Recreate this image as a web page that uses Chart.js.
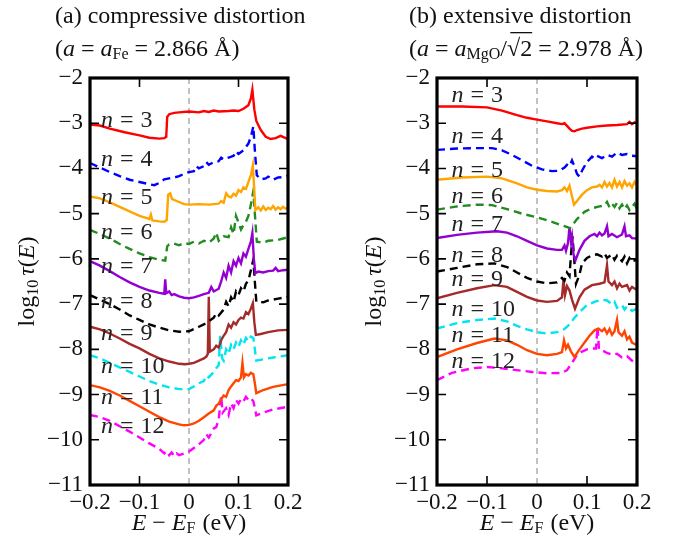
<!DOCTYPE html>
<html>
<head>
<meta charset="utf-8">
<script src="https://cdn.jsdelivr.net/npm/chart.js@4.4.1/dist/chart.umd.min.js"></script>
<style>
  body { margin: 0; background: #fff; }
  .panel { position: absolute; top: 0; width: 344px; height: 542px; }
  #leftBox { left: 0; }
  #rightBox { left: 344px; }
</style>
</head>
<body>
<div class="panel" id="leftBox"><canvas id="compChart"></canvas></div>
<div class="panel" id="rightBox"><canvas id="extChart"></canvas></div>
<script>
// log10 tau(E) vs E - E_F, [energy (eV), value] pairs, one list per n
const compN3 = [[-0.2,-3.03],[-0.18,-3.05],[-0.16,-3.12],[-0.13,-3.2],[-0.1,-3.27],[-0.08,-3.32],[-0.06,-3.34],[-0.05,-3.33],[-0.046,-3.3],[-0.044,-2.86],[-0.04,-2.8],[-0.03,-2.77],[-0.02,-2.76],[0,-2.74],[0.02,-2.76],[0.03,-2.73],[0.04,-2.75],[0.05,-2.72],[0.06,-2.74],[0.08,-2.73],[0.09,-2.72],[0.1,-2.73],[0.11,-2.68],[0.12,-2.6],[0.125,-2.45],[0.128,-2.26],[0.132,-2.7],[0.136,-2.95],[0.145,-3.15],[0.155,-3.3],[0.165,-3.35],[0.175,-3.33],[0.185,-3.28],[0.2,-3.35]];
const compN4 = [[-0.2,-3.88],[-0.18,-3.98],[-0.16,-4.08],[-0.14,-4.17],[-0.12,-4.25],[-0.1,-4.3],[-0.08,-4.35],[-0.07,-4.37],[-0.06,-4.32],[-0.05,-4.24],[-0.04,-4.22],[-0.03,-4.2],[-0.02,-4.17],[-0.01,-4.12],[0,-4.08],[0.01,-4.06],[0.015,-3.95],[0.02,-4.0],[0.03,-3.95],[0.035,-3.86],[0.04,-3.92],[0.05,-3.86],[0.06,-3.84],[0.065,-3.76],[0.07,-3.8],[0.08,-3.76],[0.09,-3.72],[0.095,-3.62],[0.1,-3.68],[0.11,-3.6],[0.12,-3.45],[0.125,-3.3],[0.13,-3.07],[0.133,-3.6],[0.137,-4.15],[0.145,-4.24],[0.155,-4.22],[0.16,-4.18],[0.17,-4.25],[0.18,-4.2],[0.19,-4.19],[0.2,-4.16]];
const compN5 = [[-0.2,-4.62],[-0.18,-4.66],[-0.16,-4.75],[-0.14,-4.85],[-0.12,-4.95],[-0.1,-5.05],[-0.085,-5.1],[-0.08,-5.12],[-0.077,-5.02],[-0.074,-5.15],[-0.06,-5.17],[-0.05,-5.18],[-0.045,-5.14],[-0.042,-4.58],[-0.038,-4.55],[-0.034,-4.68],[-0.025,-4.72],[-0.01,-4.79],[0,-4.8],[0.02,-4.79],[0.04,-4.8],[0.05,-4.79],[0.06,-4.78],[0.065,-4.72],[0.07,-4.76],[0.075,-4.55],[0.08,-4.62],[0.085,-4.64],[0.09,-4.56],[0.095,-4.6],[0.1,-4.48],[0.105,-4.52],[0.11,-4.42],[0.115,-4.45],[0.12,-4.3],[0.125,-4.15],[0.129,-3.93],[0.132,-4.5],[0.134,-4.92],[0.14,-4.86],[0.145,-4.93],[0.15,-4.84],[0.155,-4.92],[0.16,-4.87],[0.165,-4.9],[0.17,-4.83],[0.175,-4.91],[0.18,-4.86],[0.185,-4.9],[0.19,-4.85],[0.195,-4.89],[0.2,-4.86]];
const compN6 = [[-0.2,-5.36],[-0.18,-5.45],[-0.16,-5.55],[-0.14,-5.67],[-0.12,-5.78],[-0.1,-5.88],[-0.08,-5.96],[-0.06,-6.02],[-0.048,-6.04],[-0.044,-5.72],[-0.04,-5.68],[-0.03,-5.66],[-0.02,-5.7],[-0.01,-5.65],[0,-5.67],[0.01,-5.62],[0.02,-5.66],[0.03,-5.6],[0.04,-5.64],[0.05,-5.55],[0.055,-5.42],[0.06,-5.6],[0.07,-5.5],[0.08,-5.52],[0.085,-5.3],[0.09,-5.45],[0.095,-5.05],[0.1,-5.2],[0.105,-5.35],[0.11,-5.25],[0.115,-5.18],[0.12,-5.05],[0.125,-4.8],[0.13,-4.5],[0.133,-5.0],[0.137,-5.62],[0.15,-5.64],[0.16,-5.6],[0.18,-5.58],[0.2,-5.52]];
const compN7 = [[-0.2,-6.05],[-0.18,-6.15],[-0.16,-6.27],[-0.14,-6.4],[-0.12,-6.52],[-0.1,-6.62],[-0.08,-6.7],[-0.06,-6.75],[-0.05,-6.77],[-0.048,-6.45],[-0.046,-6.76],[-0.04,-6.72],[-0.035,-6.8],[-0.03,-6.78],[-0.02,-6.83],[-0.01,-6.86],[0,-6.87],[0.01,-6.85],[0.02,-6.82],[0.03,-6.78],[0.04,-6.75],[0.045,-6.62],[0.05,-6.72],[0.06,-6.66],[0.065,-6.5],[0.07,-6.3],[0.075,-6.42],[0.08,-6.15],[0.085,-6.3],[0.09,-6.05],[0.095,-6.15],[0.1,-5.98],[0.105,-6.1],[0.11,-5.88],[0.115,-5.95],[0.12,-5.78],[0.125,-5.62],[0.128,-5.43],[0.131,-6.0],[0.134,-6.32],[0.14,-6.28],[0.15,-6.3],[0.16,-6.27],[0.17,-6.26],[0.175,-6.2],[0.18,-6.27],[0.19,-6.25],[0.2,-6.24]];
const compN8 = [[-0.2,-6.8],[-0.18,-6.9],[-0.16,-7.0],[-0.14,-7.12],[-0.12,-7.25],[-0.1,-7.35],[-0.08,-7.45],[-0.06,-7.52],[-0.04,-7.58],[-0.02,-7.61],[0,-7.6],[0.02,-7.5],[0.03,-7.45],[0.04,-7.38],[0.05,-7.3],[0.055,-7.2],[0.06,-7.25],[0.07,-7.12],[0.075,-6.95],[0.08,-7.05],[0.085,-6.85],[0.09,-6.95],[0.095,-6.72],[0.1,-6.8],[0.105,-6.65],[0.11,-6.72],[0.115,-6.55],[0.12,-6.48],[0.125,-6.25],[0.13,-6.02],[0.133,-6.5],[0.136,-6.95],[0.15,-6.96],[0.16,-6.92],[0.18,-6.88],[0.2,-6.84]];
const compN9 = [[-0.2,-7.5],[-0.18,-7.56],[-0.16,-7.65],[-0.14,-7.76],[-0.12,-7.88],[-0.1,-7.98],[-0.08,-8.1],[-0.06,-8.2],[-0.04,-8.27],[-0.02,-8.32],[-0.008,-8.33],[0,-8.32],[0.01,-8.3],[0.02,-8.25],[0.03,-8.2],[0.035,-8.16],[0.038,-8.1],[0.04,-6.84],[0.042,-8.05],[0.05,-8.0],[0.055,-7.92],[0.06,-7.96],[0.065,-7.8],[0.07,-7.7],[0.075,-7.62],[0.08,-7.45],[0.085,-7.52],[0.09,-7.4],[0.095,-7.45],[0.1,-7.35],[0.105,-7.3],[0.11,-7.32],[0.115,-7.18],[0.12,-7.22],[0.125,-7.1],[0.129,-6.98],[0.132,-7.4],[0.135,-7.68],[0.145,-7.66],[0.16,-7.62],[0.18,-7.58],[0.2,-7.57]];
const compN10 = [[-0.2,-8.13],[-0.18,-8.2],[-0.16,-8.3],[-0.14,-8.4],[-0.12,-8.5],[-0.1,-8.6],[-0.08,-8.7],[-0.06,-8.78],[-0.04,-8.84],[-0.02,-8.88],[0,-8.88],[0.01,-8.82],[0.02,-8.75],[0.03,-8.7],[0.035,-8.58],[0.04,-8.62],[0.05,-8.5],[0.055,-8.42],[0.06,-8.35],[0.063,-7.7],[0.067,-8.2],[0.07,-8.25],[0.075,-8.0],[0.08,-8.1],[0.085,-7.9],[0.09,-8.0],[0.095,-7.85],[0.1,-7.95],[0.105,-7.8],[0.11,-7.9],[0.115,-7.75],[0.12,-7.82],[0.125,-7.72],[0.13,-7.75],[0.133,-8.0],[0.136,-8.25],[0.15,-8.22],[0.17,-8.18],[0.2,-8.13]];
const compN11 = [[-0.2,-8.79],[-0.18,-8.84],[-0.16,-8.92],[-0.14,-9.02],[-0.12,-9.14],[-0.1,-9.26],[-0.08,-9.38],[-0.06,-9.5],[-0.04,-9.6],[-0.02,-9.66],[-0.01,-9.68],[0,-9.67],[0.01,-9.64],[0.02,-9.58],[0.03,-9.5],[0.04,-9.42],[0.05,-9.35],[0.055,-9.25],[0.06,-9.2],[0.065,-9.1],[0.07,-9.02],[0.075,-9.05],[0.08,-8.9],[0.085,-8.82],[0.09,-8.75],[0.095,-8.68],[0.1,-8.7],[0.105,-8.62],[0.108,-8.3],[0.111,-8.62],[0.115,-8.55],[0.12,-8.58],[0.125,-8.52],[0.13,-8.55],[0.133,-8.75],[0.136,-8.97],[0.15,-8.9],[0.17,-8.83],[0.2,-8.77]];
const compN12 = [[-0.2,-9.45],[-0.18,-9.5],[-0.16,-9.58],[-0.14,-9.7],[-0.12,-9.82],[-0.1,-9.95],[-0.08,-10.08],[-0.06,-10.2],[-0.05,-10.3],[-0.045,-10.25],[-0.04,-10.34],[-0.035,-10.28],[-0.03,-10.36],[-0.025,-10.3],[-0.02,-10.34],[-0.01,-10.3],[0,-10.26],[0.01,-10.18],[0.02,-10.1],[0.03,-10.0],[0.035,-9.88],[0.04,-9.95],[0.05,-9.75],[0.055,-9.72],[0.06,-9.55],[0.065,-9.03],[0.068,-9.4],[0.075,-9.3],[0.08,-9.45],[0.085,-9.2],[0.09,-9.3],[0.095,-9.12],[0.1,-9.2],[0.105,-9.1],[0.11,-9.15],[0.115,-9.05],[0.12,-9.12],[0.125,-9.08],[0.13,-9.15],[0.133,-9.3],[0.136,-9.46],[0.15,-9.4],[0.17,-9.33],[0.2,-9.27]];

const extN3 = [[-0.2,-2.63],[-0.15,-2.63],[-0.1,-2.65],[-0.07,-2.72],[-0.04,-2.82],[-0.02,-2.88],[0,-2.92],[0.02,-2.96],[0.04,-3.0],[0.05,-3.02],[0.055,-3.0],[0.06,-3.06],[0.065,-3.12],[0.07,-3.17],[0.075,-3.18],[0.08,-3.15],[0.09,-3.12],[0.1,-3.1],[0.12,-3.07],[0.14,-3.05],[0.16,-3.04],[0.18,-3.02],[0.185,-2.97],[0.19,-3.02],[0.195,-2.98],[0.2,-3.0]];
const extN4 = [[-0.2,-3.59],[-0.16,-3.56],[-0.12,-3.55],[-0.09,-3.55],[-0.07,-3.6],[-0.05,-3.7],[-0.03,-3.82],[-0.01,-3.94],[0.01,-4.02],[0.03,-4.06],[0.045,-4.05],[0.055,-3.98],[0.06,-3.92],[0.065,-3.95],[0.07,-3.82],[0.075,-3.96],[0.08,-4.12],[0.085,-4.18],[0.09,-4.05],[0.1,-3.85],[0.105,-3.8],[0.11,-3.74],[0.115,-3.78],[0.12,-3.72],[0.13,-3.77],[0.14,-3.7],[0.15,-3.74],[0.16,-3.65],[0.17,-3.7],[0.18,-3.68],[0.19,-3.72],[0.2,-3.73]];
const extN5 = [[-0.2,-4.25],[-0.15,-4.2],[-0.1,-4.18],[-0.07,-4.22],[-0.04,-4.33],[-0.02,-4.42],[0,-4.47],[0.02,-4.5],[0.04,-4.51],[0.05,-4.48],[0.055,-4.42],[0.06,-4.5],[0.065,-4.38],[0.07,-4.62],[0.074,-4.8],[0.08,-4.72],[0.09,-4.58],[0.1,-4.48],[0.11,-4.42],[0.12,-4.4],[0.125,-4.36],[0.13,-4.42],[0.135,-4.3],[0.14,-4.4],[0.145,-4.32],[0.15,-4.42],[0.155,-4.25],[0.16,-4.4],[0.165,-4.3],[0.17,-4.42],[0.175,-4.28],[0.18,-4.38],[0.185,-4.33],[0.19,-4.42],[0.195,-4.3],[0.2,-4.38]];
const extN6 = [[-0.2,-4.91],[-0.16,-4.84],[-0.12,-4.8],[-0.09,-4.81],[-0.06,-4.9],[-0.03,-5.0],[0,-5.08],[0.03,-5.18],[0.05,-5.26],[0.066,-5.32],[0.08,-5.12],[0.095,-4.96],[0.11,-4.88],[0.125,-4.84],[0.135,-4.82],[0.14,-4.74],[0.145,-4.86],[0.15,-4.78],[0.155,-4.85],[0.16,-4.76],[0.165,-4.88],[0.17,-4.8],[0.175,-4.9],[0.18,-4.82],[0.185,-4.92],[0.19,-4.85],[0.195,-4.78],[0.2,-4.9]];
const extN7 = [[-0.2,-5.54],[-0.16,-5.47],[-0.12,-5.42],[-0.08,-5.39],[-0.06,-5.42],[-0.04,-5.5],[-0.02,-5.6],[0,-5.7],[0.02,-5.77],[0.04,-5.8],[0.05,-5.8],[0.055,-5.7],[0.058,-5.82],[0.062,-5.65],[0.065,-5.3],[0.068,-5.62],[0.07,-5.5],[0.073,-5.9],[0.077,-6.03],[0.085,-5.8],[0.095,-5.6],[0.105,-5.5],[0.115,-5.45],[0.12,-5.5],[0.125,-5.42],[0.13,-5.48],[0.135,-5.44],[0.14,-5.28],[0.143,-5.5],[0.15,-5.45],[0.16,-5.52],[0.17,-5.46],[0.175,-5.28],[0.178,-5.5],[0.185,-5.48],[0.19,-5.54],[0.2,-5.55]];
const extN8 = [[-0.2,-6.28],[-0.16,-6.2],[-0.12,-6.12],[-0.085,-6.1],[-0.06,-6.18],[-0.04,-6.3],[-0.02,-6.42],[0,-6.5],[0.02,-6.54],[0.04,-6.52],[0.05,-6.42],[0.055,-6.48],[0.06,-6.3],[0.065,-6.38],[0.068,-5.9],[0.071,-5.5],[0.075,-6.1],[0.078,-6.55],[0.085,-6.35],[0.09,-6.1],[0.1,-5.98],[0.11,-5.92],[0.12,-5.9],[0.13,-5.95],[0.135,-5.88],[0.14,-5.98],[0.15,-5.9],[0.155,-6.02],[0.16,-5.93],[0.17,-6.05],[0.175,-5.95],[0.18,-6.1],[0.185,-5.98],[0.19,-6.05],[0.2,-6.02]];
const extN9 = [[-0.2,-6.87],[-0.16,-6.75],[-0.12,-6.65],[-0.085,-6.58],[-0.06,-6.62],[-0.04,-6.73],[-0.02,-6.84],[0,-6.92],[0.02,-6.95],[0.04,-6.93],[0.05,-6.85],[0.053,-6.45],[0.056,-6.8],[0.06,-6.6],[0.065,-6.7],[0.07,-6.9],[0.076,-7.1],[0.085,-6.85],[0.095,-6.68],[0.11,-6.58],[0.125,-6.55],[0.135,-6.52],[0.14,-6.14],[0.143,-6.5],[0.15,-6.58],[0.155,-6.5],[0.16,-6.65],[0.165,-6.55],[0.17,-6.62],[0.18,-6.58],[0.185,-6.7],[0.19,-6.62],[0.2,-6.69]];
const extN10 = [[-0.2,-7.54],[-0.16,-7.42],[-0.12,-7.35],[-0.085,-7.32],[-0.06,-7.38],[-0.04,-7.48],[-0.02,-7.56],[0,-7.62],[0.02,-7.65],[0.04,-7.62],[0.055,-7.55],[0.065,-7.45],[0.075,-7.3],[0.085,-7.18],[0.1,-7.02],[0.115,-6.95],[0.13,-6.9],[0.14,-6.92],[0.15,-7.0],[0.155,-6.95],[0.16,-7.08],[0.17,-7.02],[0.175,-7.12],[0.18,-7.05],[0.19,-7.15],[0.2,-7.1]];
const extN11 = [[-0.2,-8.17],[-0.16,-8.0],[-0.12,-7.86],[-0.085,-7.76],[-0.06,-7.8],[-0.04,-7.9],[-0.02,-8.02],[0,-8.1],[0.02,-8.13],[0.04,-8.1],[0.05,-8.06],[0.054,-7.8],[0.058,-7.98],[0.062,-7.9],[0.068,-8.05],[0.075,-8.17],[0.085,-8.0],[0.095,-7.85],[0.105,-7.7],[0.115,-7.58],[0.123,-7.54],[0.13,-7.6],[0.135,-7.54],[0.14,-7.65],[0.145,-7.55],[0.15,-7.68],[0.155,-7.6],[0.16,-7.35],[0.163,-7.62],[0.17,-7.7],[0.175,-7.6],[0.18,-7.78],[0.185,-7.72],[0.19,-7.85],[0.2,-7.91]];
const extN12 = [[-0.2,-8.68],[-0.17,-8.52],[-0.13,-8.42],[-0.1,-8.39],[-0.07,-8.42],[-0.04,-8.46],[-0.01,-8.5],[0.02,-8.53],[0.05,-8.52],[0.06,-8.46],[0.07,-8.3],[0.08,-8.12],[0.09,-8.05],[0.1,-8.0],[0.11,-7.98],[0.118,-7.98],[0.121,-7.5],[0.124,-8.0],[0.13,-8.02],[0.14,-8.08],[0.15,-8.12],[0.16,-8.1],[0.17,-8.18],[0.18,-8.15],[0.19,-8.25],[0.2,-8.31]];

// curve labels: n and the log10 tau level where each "n = ..." sits
const nValues = [3, 4, 5, 6, 7, 8, 9, 10, 11, 12];
const compLabelY = [-2.94, -3.81, -4.65, -5.41, -6.18, -6.95, -7.65, -8.39, -9.08, -9.71];
const extLabelY = [-2.4, -3.29, -4.05, -4.62, -5.25, -5.92, -6.47, -7.13, -7.69, -8.28];

const xTicks = [-0.2, -0.1, 0, 0.1, 0.2];
const yTicks = [-11, -10, -9, -8, -7, -6, -5, -4, -3, -2];

const colors = ['#ff0000', '#0000ff', '#ffa500', '#228b22', '#9400d3', '#000000', '#a52a2a', '#00e5ee', '#ff4500', '#ff00ff'];
const SERIF = "'Liberation Serif', 'DejaVu Serif', serif";

function minusFmt(v, digits) {
    const r = Math.round(v * 10) / 10;
    if (Math.abs(r) < 1e-9) return '0';
    const s = digits ? Math.abs(r).toFixed(digits) : String(Math.abs(r));
    return (r < 0 ? '\u2212' : '') + s;
}

// draw a run of text pieces (italic / subscript / overline) from x, returns width
function drawRich(ctx, parts, x, y, measureOnly) {
    let cx = x;
    parts.forEach(p => {
        ctx.font = (p.i ? 'italic ' : '') + (p.size || 24) + 'px ' + SERIF;
        const w = ctx.measureText(p.t).width;
        if (!measureOnly) {
            ctx.fillText(p.t, cx, y + (p.dy || 0));
            if (p.over) {
                ctx.fillRect(cx + p.over, y - 18, w - p.over, 1.3);
            }
        }
        cx += w + (p.gap || 0);
    });
    return cx - x;
}

function drawRichCentered(ctx, parts, cx, y) {
    const w = drawRich(ctx, parts, 0, 0, true);
    drawRich(ctx, parts, cx - w / 2, y);
}

function buildDatasets(series) {
    return series.map((pts, i) => ({
        data: pts.map(p => ({ x: p[0], y: p[1] })),
        borderColor: colors[i],
        borderWidth: 2.4,
        borderDash: i % 2 === 1 ? [8, 5] : [],
        pointRadius: 0,
        tension: 0,
        fill: false
    }));
}

// frame, inward ticks, the E = E_F guide and all the text decorations
const decorPlugin = {
    id: 'decor',
    beforeDatasetsDraw(chart) {
        const { ctx, chartArea: a, scales: { x } } = chart;
        const x0 = x.getPixelForValue(0);
        ctx.save();
        ctx.strokeStyle = '#9a9a9a';
        ctx.lineWidth = 1.2;
        ctx.setLineDash([6, 4]);
        ctx.beginPath();
        ctx.moveTo(x0, a.top);
        ctx.lineTo(x0, a.bottom);
        ctx.stroke();
        ctx.restore();
    },
    afterDatasetsDraw(chart, args, opts) {
        const { ctx, chartArea: a, scales: { x, y } } = chart;
        ctx.save();
        ctx.strokeStyle = '#000';
        ctx.lineWidth = 1.6;
        ctx.beginPath();
        yTicks.forEach(v => {
            const py = y.getPixelForValue(v);
            ctx.moveTo(a.left, py); ctx.lineTo(a.left + 9, py);
            ctx.moveTo(a.right, py); ctx.lineTo(a.right - 9, py);
        });
        xTicks.forEach(v => {
            if (v === 0) return;
            const px = x.getPixelForValue(v);
            ctx.moveTo(px, a.top); ctx.lineTo(px, a.top + 9);
            ctx.moveTo(px, a.bottom); ctx.lineTo(px, a.bottom - 9);
        });
        ctx.stroke();
        ctx.lineWidth = 3.2;
        ctx.strokeRect(a.left, a.top, a.right - a.left, a.bottom - a.top);

        // "n = ..." labels
        ctx.fillStyle = '#222';
        ctx.textBaseline = 'middle';
        opts.labelY.forEach((ly, i) => {
            drawRich(ctx, [
                { t: 'n', i: true, size: 24, gap: 7 },
                { t: '=', size: 24, gap: 7 },
                { t: String(nValues[i]), size: 24 }
            ], x.getPixelForValue(opts.labelX), y.getPixelForValue(ly));
        });
        ctx.restore();
    },
    afterDraw(chart, args, opts) {
        const { ctx, chartArea: a } = chart;
        const mid = (a.left + a.right) / 2;
        ctx.save();
        ctx.fillStyle = '#111';
        ctx.textBaseline = 'middle';
        drawRich(ctx, opts.title1, opts.titleX, 17);
        drawRich(ctx, opts.title2, opts.titleX, 50);

        drawRichCentered(ctx, [
            { t: 'E', i: true },
            { t: ' \u2212 ' },
            { t: 'E', i: true },
            { t: 'F', size: 16, dy: 5, gap: 7 },
            { t: '(eV)' }
        ], mid, 524);

        ctx.translate(opts.yTitleX, (a.top + a.bottom) / 2);
        ctx.rotate(-Math.PI / 2);
        drawRichCentered(ctx, [
            { t: 'log' },
            { t: '10', size: 16, dy: 6, gap: 4 },
            { t: '\u03c4', i: true },
            { t: '(' },
            { t: 'E', i: true },
            { t: ')' }
        ], 0, 0);
        ctx.restore();
    }
};

function makeChart(canvasId, series, frameLeft, padRight, extra) {
    const ctx = document.getElementById(canvasId).getContext('2d');
    return new Chart(ctx, {
        type: 'line',
        data: { datasets: buildDatasets(series) },
        plugins: [decorPlugin],
        options: {
            responsive: true,
            maintainAspectRatio: false,
            animation: false,
            layout: { padding: { top: 78, right: padRight, left: 0, bottom: 0 } },
            plugins: {
                legend: { display: false },
                tooltip: { enabled: false },
                decor: extra
            },
            scales: {
                x: {
                    type: 'linear',
                    min: -0.2,
                    max: 0.2,
                    afterBuildTicks: s => { s.ticks = xTicks.map(v => ({ value: v })); },
                    afterFit: s => { s.height = 57; },
                    grid: { display: false, drawTicks: false },
                    border: { display: false },
                    ticks: {
                        padding: 4,
                        color: '#111',
                        maxRotation: 0,
                        font: { family: SERIF, size: 23 },
                        callback: v => minusFmt(v, 1)
                    }
                },
                y: {
                    min: -11,
                    max: -2,
                    afterBuildTicks: s => { s.ticks = yTicks.map(v => ({ value: v })); },
                    afterFit: s => { s.width = frameLeft; },
                    grid: { display: false, drawTicks: false },
                    border: { display: false },
                    ticks: {
                        padding: 7,
                        color: '#111',
                        font: { family: SERIF, size: 23 },
                        callback: v => minusFmt(v, 0)
                    }
                }
            }
        }
    });
}

function initCharts() {
    makeChart('compChart',
        [compN3, compN4, compN5, compN6, compN7, compN8, compN9, compN10, compN11, compN12],
        90, 56, {
            labelY: compLabelY,
            labelX: -0.178,
            titleX: 55,
            yTitleX: 28,
            title1: [{ t: '(a) compressive distortion' }],
            title2: [
                { t: '(' },
                { t: 'a', i: true },
                { t: ' = ' },
                { t: 'a', i: true },
                { t: 'Fe', size: 16, dy: 5 },
                { t: ' = 2.866 \u00c5)' }
            ]
        });

    makeChart('extChart',
        [extN3, extN4, extN5, extN6, extN7, extN8, extN9, extN10, extN11, extN12],
        93, 51, {
            labelY: extLabelY,
            labelX: -0.171,
            titleX: 65,
            yTitleX: 31,
            title1: [{ t: '(b) extensive distortion' }],
            title2: [
                { t: '(' },
                { t: 'a', i: true },
                { t: ' = ' },
                { t: 'a', i: true },
                { t: 'MgO', size: 16, dy: 5 },
                { t: '/\u221a2', over: 10 },
                { t: ' = 2.978 \u00c5)' }
            ]
        });
}

document.addEventListener('DOMContentLoaded', function () {
    initCharts();
});
</script>
</body>
</html>
